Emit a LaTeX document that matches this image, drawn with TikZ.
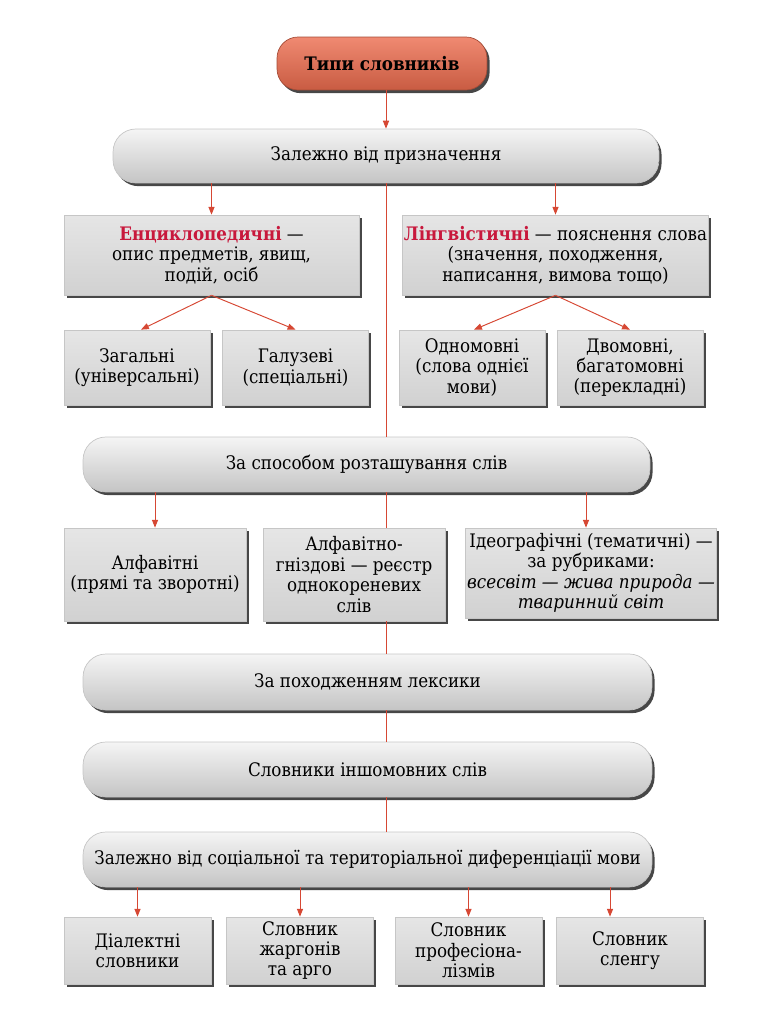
\documentclass[tikz,border=0pt]{standalone}
\usepackage{fontspec}
\setmainfont{DejaVu Serif Condensed}
\usetikzlibrary{positioning,arrows.meta,shadows}
\definecolor{arr}{RGB}{214,72,52}
\definecolor{hot}{RGB}{200,24,60}
\definecolor{orng}{RGB}{236,108,78}
\tikzset{
  shade/.style={drop shadow={shadow xshift=1.5pt,shadow yshift=-1.8pt,opacity=1,fill=black!72}},
  pill/.style={shade,rounded corners=13pt,top color=gray!8,bottom color=gray!46,draw=gray!45,
    minimum height=1.1cm,align=center,font=\fontsize{10.6}{11.6}\selectfont},
  tile/.style={shade,top color=gray!20,bottom color=gray!36,draw=gray!45,
    align=center,inner sep=1pt,font=\fontsize{10.6}{11.6}\selectfont},
  ar/.style={draw=arr,line width=.55pt,-{Triangle[length=4.5pt,width=3.5pt]}},
  ln/.style={draw=arr,line width=.55pt}
}
\begin{document}
\begin{tikzpicture}[x=.02cm,y=-.02cm]
\useasboundingbox (0,0) rectangle (768,1024);
\node[shade,rounded corners=12pt,top color=orng!80,bottom color=orng!85!black,draw=orng!70!black,
  minimum width=4.2cm,minimum height=1.06cm,font=\fontsize{10.6}{11.6}\selectfont\bfseries] (top) at (382,63.5) {Типи словників};
\node[pill,minimum width=10.92cm,minimum height=1.08cm] (zal) at (386,156) {Залежно від призначення};
\node[tile,minimum width=5.9cm,minimum height=1.6cm] (enc) at (211.5,255)
  {\textcolor{hot}{\textbf{Енциклопедичні}} —\\опис предметів, явищ,\\подій, осіб};
\node[tile,minimum width=5.9cm,minimum height=1.6cm] (ling) at (555.5,255)
  {\textcolor{hot}{\textbf{Лінгвістичні}} — пояснення слова\\(значення, походження,\\написання, вимова тощо)};
\node[tile,minimum width=2.92cm,minimum height=1.5cm] (zah) at (137,367.5) {Загальні\\(універсальні)};
\node[tile,minimum width=2.92cm,minimum height=1.5cm] (hal) at (295.5,367.5) {Галузеві\\(спеціальні)};
\node[tile,minimum width=2.92cm,minimum height=1.5cm] (odn) at (472,367.5) {Одномовні\\(слова однієї\\мови)};
\node[tile,minimum width=2.92cm,minimum height=1.5cm] (dvo) at (630,367.5) {Двомовні,\\багатомовні\\(перекладні)};
\node[pill,minimum width=11.34cm] (sp) at (366.5,464.5) {За способом розташування слів};
\node[tile,minimum width=3.64cm,minimum height=1.86cm] (alf) at (155,574.5) {Алфавітні\\(прямі та зворотні)};
\node[tile,minimum width=3.64cm,minimum height=1.86cm] (alfh) at (354,574.5) {Алфавітно-\\гніздові — реєстр\\однокореневих\\слів};
\node[tile,minimum width=4.76cm,minimum height=1.8cm] (ideo) at (591,573)
  {Ідеографічні (тематичні) —\\за рубриками:\\\textit{всесвіт — жива природа —}\\\textit{тваринний світ}};
\node[pill,minimum width=11.38cm,minimum height=1.12cm] (poh) at (367.5,682) {За походженням лексики};
\node[pill,minimum width=11.38cm] (insh) at (367.5,769.5) {Словники іншомовних слів};
\node[pill,minimum width=11.38cm] (soc) at (367.5,859.5) {Залежно від соціальної та територіальної диференціації мови};
\node[tile,minimum width=2.94cm,minimum height=1.34cm] (dial) at (137.5,950.5) {Діалектні\\словники};
\node[tile,minimum width=2.94cm,minimum height=1.34cm] (zhar) at (300,950.5) {Словник\\жаргонів\\та арго};
\node[tile,minimum width=2.94cm,minimum height=1.34cm] (prof) at (468.5,950.5) {Словник\\професіона-\\лізмів};
\node[tile,minimum width=2.94cm,minimum height=1.34cm] (slen) at (630,950.5) {Словник\\сленгу};
\coordinate (spine) at (386,0);
\draw[ar] (top.south -| spine) -- (zal.north -| spine);
\draw[ln] (zal.south -| spine) -- (sp.north -| spine);
\draw[ln] (sp.south -| spine) -- (alfh.north -| spine);
\draw[ln] (alfh.south -| spine) -- (poh.north -| spine);
\draw[ln] (poh.south -| spine) -- (insh.north -| spine);
\draw[ln] (insh.south -| spine) -- (soc.north -| spine);
\draw[ar] (enc.north |- zal.south) -- (enc.north);
\draw[ar] (ling.north |- zal.south) -- (ling.north);
\draw[ar] (enc.south) -- ([xshift=.08cm]zah.north);
\draw[ar] (enc.south) -- (hal.north);
\draw[ar] (ling.south) -- ([xshift=.04cm]odn.north);
\draw[ar] (ling.south) -- (dvo.north);
\draw[ar] (alf.north |- sp.south) -- (alf.north);
\draw[ar] ([xshift=-.1cm]ideo.north |- sp.south) -- ([xshift=-.1cm]ideo.north);
\draw[ar] (dial.north |- soc.south) -- (dial.north);
\draw[ar] (zhar.north |- soc.south) -- (zhar.north);
\draw[ar] (prof.north |- soc.south) -- (prof.north);
\draw[ar] ([xshift=-.4cm]slen.north |- soc.south) -- ([xshift=-.4cm]slen.north);
\end{tikzpicture}
\end{document}
